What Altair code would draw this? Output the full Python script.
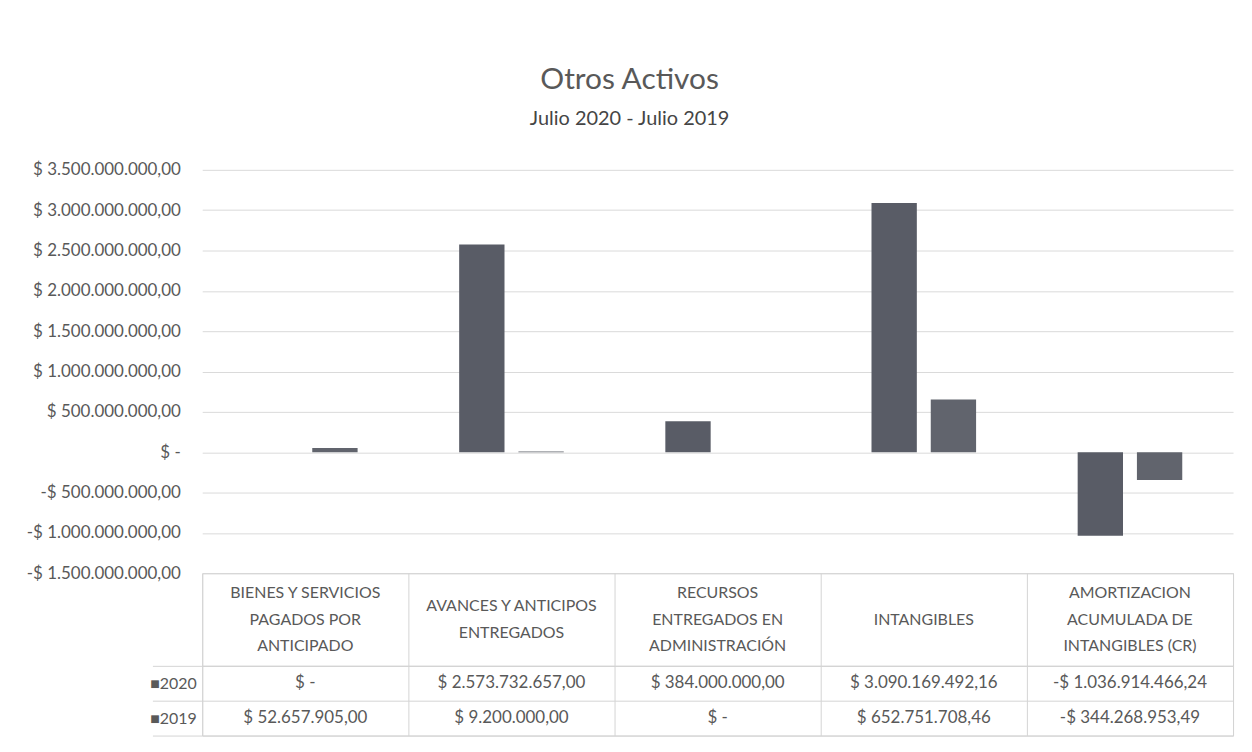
import altair as alt
import pandas as pd

categories = [
    "BIENES Y SERVICIOS PAGADOS POR ANTICIPADO",
    "AVANCES Y ANTICIPOS ENTREGADOS",
    "RECURSOS ENTREGADOS EN ADMINISTRACIÓN",
    "INTANGIBLES",
    "AMORTIZACION ACUMULADA DE INTANGIBLES (CR)",
]
header_labels = [
    "BIENES Y SERVICIOS\nPAGADOS POR\nANTICIPADO",
    "AVANCES Y ANTICIPOS\nENTREGADOS",
    "RECURSOS\nENTREGADOS EN\nADMINISTRACIÓN",
    "INTANGIBLES",
    "AMORTIZACION\nACUMULADA DE\nINTANGIBLES (CR)",
]
years = ["2020", "2019"]
values_2020 = [0.0, 2573732657.00, 384000000.00, 3090169492.16, -1036914466.24]
values_2019 = [52657905.00, 9200000.00, 0.0, 652751708.46, -344268953.49]
y_ticks = [-1.5e9, -1.0e9, -0.5e9, 0.0, 0.5e9, 1.0e9, 1.5e9, 2.0e9, 2.5e9, 3.0e9, 3.5e9]
colors = ["#595c66", "#61646d"]

FONT = "Lato"
TXT = "#595959"
LINE = "#d4d4d4"
LH = 27


def fmt(v):
    if v == 0:
        return "$ -"
    s = f"{abs(v):,.2f}".replace(",", "#").replace(".", ",").replace("#", ".")
    return ("-$ " if v < 0 else "$ ") + s


rows = []
for yr, vals in zip(years, [values_2020, values_2019]):
    for c, v in zip(categories, vals):
        rows.append({"category": c, "year": yr, "value": v, "text": fmt(v)})
df = pd.DataFrame(rows)
hdr = pd.DataFrame({"category": categories, "label": header_labels,
                    "n": [h.count("\n") + 1 for h in header_labels]})

W = 1035
xscale = alt.Scale(domain=categories, paddingInner=0, paddingOuter=0)

label_expr = (
    "datum.value == 0 ? '$ -' : (datum.value < 0 ? '-$ ' : '$ ') + "
    "replace(replace(replace(format(abs(datum.value), ',.2f'), regexp(',', 'g'), '#'), "
    "regexp('[.]', 'g'), ','), regexp('#', 'g'), '.')"
)

bars = alt.Chart(df).mark_bar().encode(
    x=alt.X("category:N", sort=categories, scale=xscale, axis=None),
    xOffset=alt.XOffset("year:N", sort=years,
                        scale=alt.Scale(domain=years, paddingInner=0.235, paddingOuter=0.857)),
    y=alt.Y("value:Q", scale=alt.Scale(domain=[-1.5e9, 3.5e9], nice=False, zero=False),
            axis=alt.Axis(title=None, values=y_ticks, labelExpr=label_expr, labelFont=FONT,
                          labelFontSize=17, labelColor=TXT, labelPadding=22, ticks=False,
                          domain=False, gridColor="#dadada")),
    color=alt.Color("year:N", scale=alt.Scale(domain=years, range=colors), legend=None),
).properties(width=W, height=405, view=alt.ViewBackground(stroke="transparent"))

hx = alt.X("category:N", sort=categories, scale=xscale,
           axis=alt.Axis(title=None, labels=False, ticks=False, domain=False, grid=True,
                         tickBand="extent", gridColor=LINE))
hbase = alt.Chart(hdr)
hlayers = []
for k in [1, 2, 3]:
    hlayers.append(
        hbase.transform_filter(f"datum.n == {k}").mark_text(
            font=FONT, fontSize=16, color=TXT, lineBreak="\n", lineHeight=LH,
            baseline="middle", dy=-(k - 1) * LH / 2
        ).encode(x=hx, text="label:N")
    )
header = alt.layer(*hlayers).properties(width=W, height=93,
                                         view=alt.ViewBackground(stroke=LINE))

table = alt.Chart(df).mark_text(font=FONT, fontSize=17, color=TXT, baseline="middle").encode(
    x=alt.X("category:N", sort=categories, scale=xscale,
            axis=alt.Axis(title=None, labels=False, ticks=False, domain=False, grid=True,
                          tickBand="extent", gridColor=LINE)),
    y=alt.Y("year:N", sort=years, scale=alt.Scale(domain=years, paddingInner=0, paddingOuter=0),
            axis=alt.Axis(title=None, tickBand="extent", tickSize=50, tickColor=LINE,
                          labelPadding=-44,
                          labelExpr="datum.label ? '\u25a0' + datum.label : ''",
                          labelFont=FONT, labelFontSize=16, labelColor=TXT, domain=False,
                          grid=True, gridColor=LINE)),
    text="text:N",
).properties(width=W, height=70, view=alt.ViewBackground(stroke=LINE))

chart = alt.vconcat(bars, header, table, spacing=0, bounds="flush").properties(
    title=alt.TitleParams("Otros Activos", subtitle="Julio 2020 - Julio 2019", font=FONT,
                          subtitleFont=FONT, fontSize=30, subtitleFontSize=20,
                          fontWeight="normal", color=TXT, subtitleColor="#454545",
                          anchor="middle", subtitlePadding=14, offset=32),
    padding={"left": 17, "top": 55, "right": 10, "bottom": 10},
).configure(background="white")

chart.save("out.html", embed_options={"renderer": "svg", "actions": False})
